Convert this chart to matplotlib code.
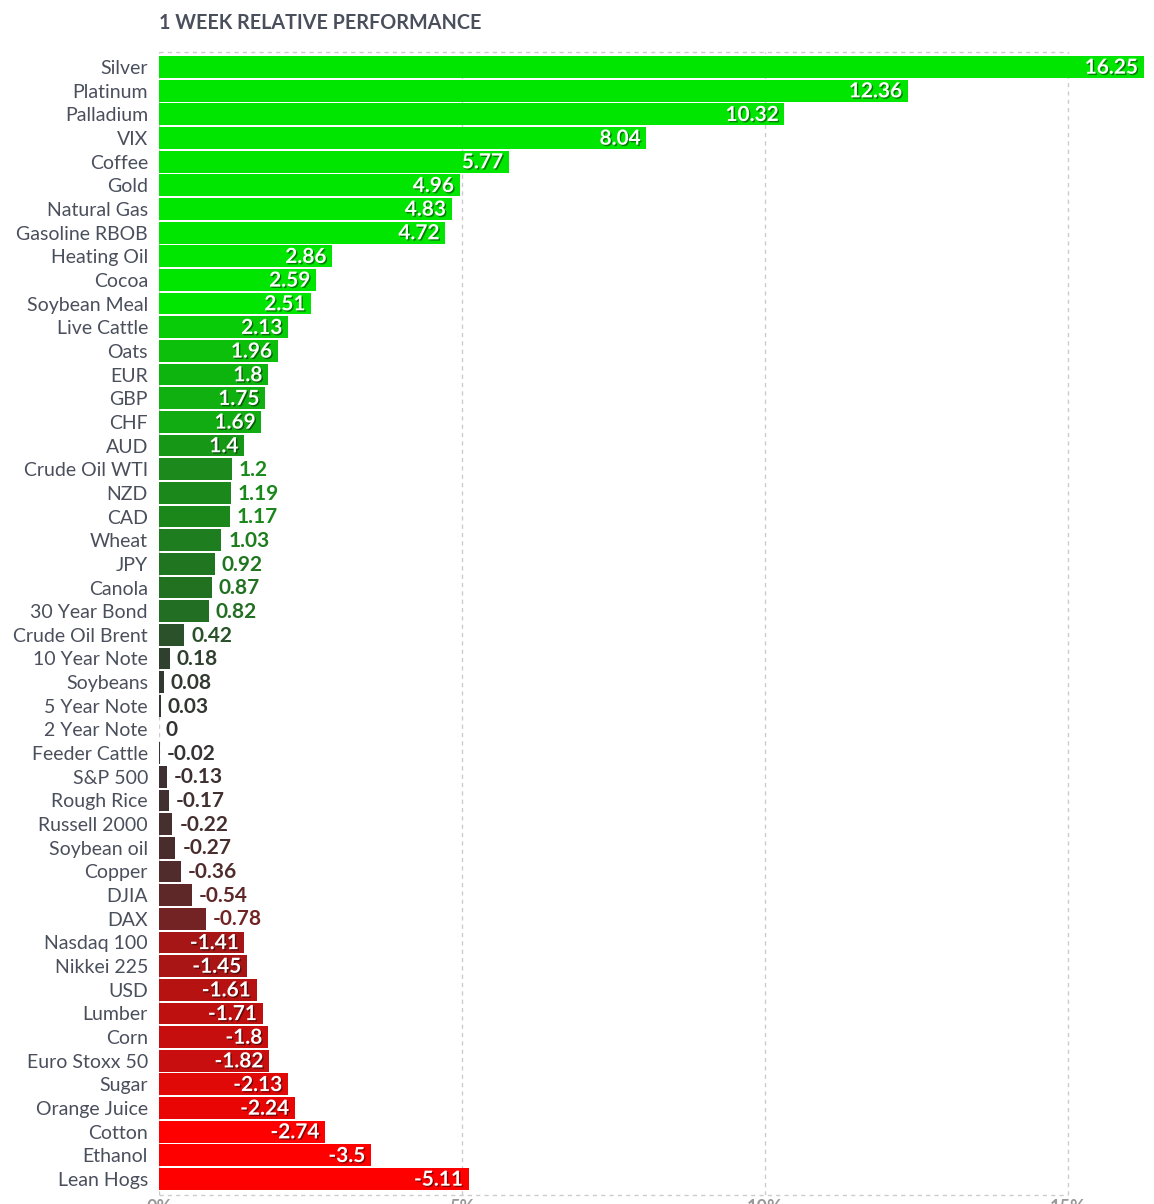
import matplotlib
matplotlib.use("Agg")
import matplotlib.pyplot as plt
import matplotlib.patheffects as pe
import numpy as np

categories = ["Silver", "Platinum", "Palladium", "VIX", "Coffee", "Gold", "Natural Gas",
              "Gasoline RBOB", "Heating Oil", "Cocoa", "Soybean Meal", "Live Cattle", "Oats",
              "EUR", "GBP", "CHF", "AUD", "Crude Oil WTI", "NZD", "CAD", "Wheat", "JPY",
              "Canola", "30 Year Bond", "Crude Oil Brent", "10 Year Note", "Soybeans",
              "5 Year Note", "2 Year Note", "Feeder Cattle", "S&P 500", "Rough Rice",
              "Russell 2000", "Soybean oil", "Copper", "DJIA", "DAX", "Nasdaq 100",
              "Nikkei 225", "USD", "Lumber", "Corn", "Euro Stoxx 50", "Sugar",
              "Orange Juice", "Cotton", "Ethanol", "Lean Hogs"]
values = [16.25, 12.36, 10.32, 8.04, 5.77, 4.96, 4.83, 4.72, 2.86, 2.59, 2.51, 2.13, 1.96,
          1.8, 1.75, 1.69, 1.4, 1.2, 1.19, 1.17, 1.03, 0.92, 0.87, 0.82, 0.42, 0.18, 0.08,
          0.03, 0, -0.02, -0.13, -0.17, -0.22, -0.27, -0.36, -0.54, -0.78, -1.41, -1.45,
          -1.61, -1.71, -1.8, -1.82, -2.13, -2.24, -2.74, -3.5, -5.11]
value_labels = ["16.25", "12.36", "10.32", "8.04", "5.77", "4.96", "4.83", "4.72", "2.86",
                "2.59", "2.51", "2.13", "1.96", "1.8", "1.75", "1.69", "1.4", "1.2", "1.19",
                "1.17", "1.03", "0.92", "0.87", "0.82", "0.42", "0.18", "0.08", "0.03", "0",
                "-0.02", "-0.13", "-0.17", "-0.22", "-0.27", "-0.36", "-0.54", "-0.78",
                "-1.41", "-1.45", "-1.61", "-1.71", "-1.8", "-1.82", "-2.13", "-2.24",
                "-2.74", "-3.5", "-5.11"]
tick_values = [0, 5, 10, 15]
tick_labels = ["0%", "5%", "10%", "15%"]
title = "1 WEEK RELATIVE PERFORMANCE"

plt.rcParams['font.family'] = ['Lato', 'DejaVu Sans']

MID = np.array([0x33, 0x33, 0x33]) / 255.0
POS = np.array([0x00, 0xe6, 0x00]) / 255.0
NEG = np.array([0xff, 0x00, 0x00]) / 255.0
SAT = 2.5


def color_for(v):
    t = min(abs(v) / SAT, 1.0)
    end = POS if v >= 0 else NEG
    return tuple(MID + (end - MID) * t)


fig = plt.figure(figsize=(11.54, 12.04), dpi=100)
ax = fig.add_axes([159 / 1154, 1 - 1195 / 1204, 994 / 1154, (1195 - 52) / 1204])

n = len(categories)
y = np.arange(n)
mags = [abs(v) for v in values]
cols = [color_for(v) for v in values]
ax.barh(y, mags, height=0.92, color=cols, zorder=2)

ax.set_xlim(0, 994 / 60.6)
ax.set_ylim(n - 1 + 0.676, -0.634)

grid_c = "#cccccc"
for xv in tick_values:
    ax.axvline(xv, color=grid_c, lw=1, ls=(0, (3, 3)), zorder=1)
for yy in ax.get_ylim():
    ax.plot([0, 15], [yy, yy], color=grid_c, lw=1, ls=(0, (3, 3)), zorder=1, clip_on=False)

for s in ax.spines.values():
    s.set_visible(False)

ax.set_yticks(y)
ax.set_yticklabels(categories, fontsize=14, color="#4a4f5c")
ax.tick_params(axis='y', length=0, pad=8)
ax.set_xticks(tick_values)
ax.set_xticklabels(tick_labels, fontsize=13, color="#999999", fontweight='bold')
ax.tick_params(axis='x', length=0, pad=3)

shadow = [pe.SimplePatchShadow(offset=(1, -1), shadow_rgbFace=(0, 0, 0), alpha=0.45), pe.Normal()]
for i, (m, v, lab, c) in enumerate(zip(mags, values, value_labels, cols)):
    if m >= 1.3:
        ax.annotate(lab, (m, i), xytext=(-4, -0.5), textcoords='offset points',
                    ha='right', va='center', fontsize=15, fontweight='bold',
                    color='white', path_effects=shadow, zorder=3)
    else:
        ax.annotate(lab, (m, i), xytext=(5, -0.5), textcoords='offset points',
                    ha='left', va='center', fontsize=15, fontweight='bold',
                    color=c, zorder=3)

fig.text(159 / 1154, 1 - 23 / 1204, title, fontsize=14.2, fontweight='bold',
         color="#4a4f5c", ha='left', va='center')

fig.savefig("out.png", dpi=100)
